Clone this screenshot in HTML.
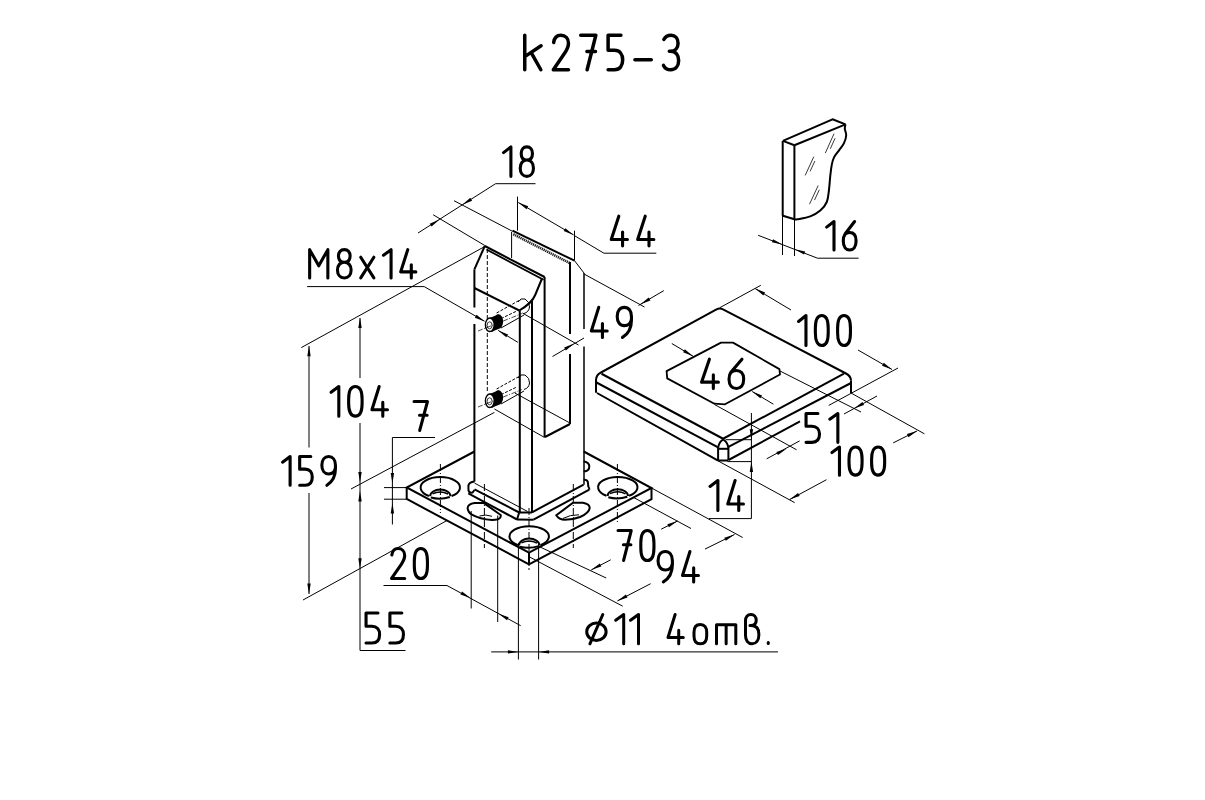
<!DOCTYPE html>
<html><head><meta charset="utf-8"><style>
html,body{margin:0;padding:0;background:#fff;width:1205px;height:800px;overflow:hidden}
svg{display:block}
</style></head><body>
<svg width="1205" height="800" viewBox="0 0 1205 800" stroke-linecap="butt">
<rect width="1205" height="800" fill="#fff"/>
<g transform="translate(524.75,35.15) scale(1.1659,1.2357)" fill="none" stroke="#000" stroke-width="3.5" stroke-linecap="round" stroke-linejoin="round"><path vector-effect="non-scaling-stroke" transform="translate(0,0)" d="M0,0 V28 M14,8.6 L1,16.8 M6,15 L13.8,28"/><path vector-effect="non-scaling-stroke" transform="translate(24.5,0)" d="M0.3,6 C0.8,2.2 3.2,0 6.5,0 C10.3,0 13,2.6 13,6.6 C13,9.5 12,11.5 9.8,14.5 L0,28 H13"/><path vector-effect="non-scaling-stroke" transform="translate(48,0)" d="M0,0 H13 L5.5,28 M5.3,13.3 H12.7"/><path vector-effect="non-scaling-stroke" transform="translate(71.5,0)" d="M11,0 H0 V12.3 H5.5 C10,12.3 12.5,15.5 12.5,20 C12.5,25 10,28 5.5,28 H0"/><path vector-effect="non-scaling-stroke" transform="translate(94.5,0)" d="M0,20 H14"/><path vector-effect="non-scaling-stroke" transform="translate(119,0)" d="M0.3,3.5 C1.5,1.2 3.8,0 6.5,0 C10,0 12.5,2.5 12.5,6.5 C12.5,10.5 10,13 6,13 H5 M6,13 C10.5,13 13,16 13,20.5 C13,25 10.3,28 6.2,28 C3.5,28 1.2,26.8 0,24.5"/></g>
<g transform="translate(503.55,146.85) scale(0.9803,1.0536)" fill="none" stroke="#000" stroke-width="3.1" stroke-linecap="round" stroke-linejoin="round"><path vector-effect="non-scaling-stroke" transform="translate(0,0)" d="M0,5.5 L7.5,0 V28"/><path vector-effect="non-scaling-stroke" transform="translate(17,0)" d="M6.75,12.5 C3.2,12.5 1,10.2 1,6.3 C1,2.5 3.2,0 6.75,0 C10.3,0 12.5,2.5 12.5,6.3 C12.5,10.2 10.3,12.5 6.75,12.5 C2.7,12.5 0,15.5 0,20.2 C0,25 2.7,28 6.75,28 C10.8,28 13.5,25 13.5,20.2 C13.5,15.5 10.8,12.5 6.75,12.5 Z"/></g>
<g transform="translate(611.25,216.15) scale(1.0785,1.0607)" fill="none" stroke="#000" stroke-width="3.1" stroke-linecap="round" stroke-linejoin="round"><path vector-effect="non-scaling-stroke" transform="translate(0,0)" d="M7,0 L0,22 H15 M10.5,15 V28"/><path vector-effect="non-scaling-stroke" transform="translate(24.5,0)" d="M7,0 L0,22 H15 M10.5,15 V28"/></g>
<g transform="translate(309.65,249.65) scale(1.0114,1.0107)" fill="none" stroke="#000" stroke-width="3.1" stroke-linecap="round" stroke-linejoin="round"><path vector-effect="non-scaling-stroke" transform="translate(0,0)" d="M0,28 V0 L9,16 L18,0 V28"/><path vector-effect="non-scaling-stroke" transform="translate(27.5,0)" d="M6.75,12.5 C3.2,12.5 1,10.2 1,6.3 C1,2.5 3.2,0 6.75,0 C10.3,0 12.5,2.5 12.5,6.3 C12.5,10.2 10.3,12.5 6.75,12.5 C2.7,12.5 0,15.5 0,20.2 C0,25 2.7,28 6.75,28 C10.8,28 13.5,25 13.5,20.2 C13.5,15.5 10.8,12.5 6.75,12.5 Z"/><path vector-effect="non-scaling-stroke" transform="translate(50.5,0)" d="M0,7.5 L13,28 M13,7.5 L0,28"/><path vector-effect="non-scaling-stroke" transform="translate(73,0)" d="M0,5.5 L7.5,0 V28"/><path vector-effect="non-scaling-stroke" transform="translate(90,0)" d="M7,0 L0,22 H15 M10.5,15 V28"/></g>
<g transform="translate(591.35,307.35) scale(1.0553,1.0750)" fill="none" stroke="#000" stroke-width="3.1" stroke-linecap="round" stroke-linejoin="round"><path vector-effect="non-scaling-stroke" transform="translate(0,0)" d="M7,0 L0,22 H15 M10.5,15 V28"/><path vector-effect="non-scaling-stroke" transform="translate(24.5,0)" d="M13.5,11 C12.8,14.8 10.2,17 6.75,17 C2.7,17 0,13.8 0,8.5 C0,3.2 2.7,0 6.75,0 C10.8,0 13.5,3.2 13.5,8.5 V12 C13.5,19 11,24.5 5,28"/></g>
<g transform="translate(826.65,221.55) scale(0.9800,1.0143)" fill="none" stroke="#000" stroke-width="3.1" stroke-linecap="round" stroke-linejoin="round"><path vector-effect="non-scaling-stroke" transform="translate(0,0)" d="M0,5.5 L7.5,0 V28"/><path vector-effect="non-scaling-stroke" transform="translate(17,0)" d="M11.5,0 L1.8,12.3 C0.6,14 0,16 0,18.8 V19.5 C0,25 2.7,28 6.5,28 C10.3,28 13,25 13,19.5 V18.8 C13,13.5 10.3,10.8 6.5,10.8 C4.2,10.8 2.6,11.6 1.5,12.8"/></g>
<g transform="translate(798.55,315.55) scale(0.9886,1.0679)" fill="none" stroke="#000" stroke-width="3.1" stroke-linecap="round" stroke-linejoin="round"><path vector-effect="non-scaling-stroke" transform="translate(0,0)" d="M0,5.5 L7.5,0 V28"/><path vector-effect="non-scaling-stroke" transform="translate(17,0)" d="M6.5,0 C10.8,0 13,4.5 13,12 V16 C13,23.5 10.8,28 6.5,28 C2.2,28 0,23.5 0,16 V12 C0,4.5 2.2,0 6.5,0 Z"/><path vector-effect="non-scaling-stroke" transform="translate(39.5,0)" d="M6.5,0 C10.8,0 13,4.5 13,12 V16 C13,23.5 10.8,28 6.5,28 C2.2,28 0,23.5 0,16 V12 C0,4.5 2.2,0 6.5,0 Z"/></g>
<g transform="translate(701.55,359.15) scale(1.1227,1.0464)" fill="none" stroke="#000" stroke-width="3.1" stroke-linecap="round" stroke-linejoin="round"><path vector-effect="non-scaling-stroke" transform="translate(0,0)" d="M7,0 L0,22 H15 M10.5,15 V28"/><path vector-effect="non-scaling-stroke" transform="translate(24.5,0)" d="M11.5,0 L1.8,12.3 C0.6,14 0,16 0,18.8 V19.5 C0,25 2.7,28 6.5,28 C10.3,28 13,25 13,19.5 V18.8 C13,13.5 10.3,10.8 6.5,10.8 C4.2,10.8 2.6,11.6 1.5,12.8"/></g>
<g transform="translate(331.05,386.55) scale(1.0349,1.0571)" fill="none" stroke="#000" stroke-width="3.1" stroke-linecap="round" stroke-linejoin="round"><path vector-effect="non-scaling-stroke" transform="translate(0,0)" d="M0,5.5 L7.5,0 V28"/><path vector-effect="non-scaling-stroke" transform="translate(17,0)" d="M6.5,0 C10.8,0 13,4.5 13,12 V16 C13,23.5 10.8,28 6.5,28 C2.2,28 0,23.5 0,16 V12 C0,4.5 2.2,0 6.5,0 Z"/><path vector-effect="non-scaling-stroke" transform="translate(39.5,0)" d="M7,0 L0,22 H15 M10.5,15 V28"/></g>
<g transform="translate(414.05,401.55) scale(1.0308,1.0321)" fill="none" stroke="#000" stroke-width="3.1" stroke-linecap="round" stroke-linejoin="round"><path vector-effect="non-scaling-stroke" transform="translate(0,0)" d="M0,0 H13 L5.5,28 M5.3,13.3 H12.7"/></g>
<g transform="translate(806.05,413.55) scale(1.0780,1.0286)" fill="none" stroke="#000" stroke-width="3.1" stroke-linecap="round" stroke-linejoin="round"><path vector-effect="non-scaling-stroke" transform="translate(0,0)" d="M11,0 H0 V12.3 H5.5 C10,12.3 12.5,15.5 12.5,20 C12.5,25 10,28 5.5,28 H0"/><path vector-effect="non-scaling-stroke" transform="translate(22,0)" d="M0,5.5 L7.5,0 V28"/></g>
<g transform="translate(282.55,456.55) scale(1.0076,1.0250)" fill="none" stroke="#000" stroke-width="3.1" stroke-linecap="round" stroke-linejoin="round"><path vector-effect="non-scaling-stroke" transform="translate(0,0)" d="M0,5.5 L7.5,0 V28"/><path vector-effect="non-scaling-stroke" transform="translate(17,0)" d="M11,0 H0 V12.3 H5.5 C10,12.3 12.5,15.5 12.5,20 C12.5,25 10,28 5.5,28 H0"/><path vector-effect="non-scaling-stroke" transform="translate(39,0)" d="M13.5,11 C12.8,14.8 10.2,17 6.75,17 C2.7,17 0,13.8 0,8.5 C0,3.2 2.7,0 6.75,0 C10.8,0 13.5,3.2 13.5,8.5 V12 C13.5,19 11,24.5 5,28"/></g>
<g transform="translate(831.95,447.05) scale(1.0038,1.0036)" fill="none" stroke="#000" stroke-width="3.1" stroke-linecap="round" stroke-linejoin="round"><path vector-effect="non-scaling-stroke" transform="translate(0,0)" d="M0,5.5 L7.5,0 V28"/><path vector-effect="non-scaling-stroke" transform="translate(17,0)" d="M6.5,0 C10.8,0 13,4.5 13,12 V16 C13,23.5 10.8,28 6.5,28 C2.2,28 0,23.5 0,16 V12 C0,4.5 2.2,0 6.5,0 Z"/><path vector-effect="non-scaling-stroke" transform="translate(39.5,0)" d="M6.5,0 C10.8,0 13,4.5 13,12 V16 C13,23.5 10.8,28 6.5,28 C2.2,28 0,23.5 0,16 V12 C0,4.5 2.2,0 6.5,0 Z"/></g>
<g transform="translate(710.05,480.55) scale(1.0437,1.0679)" fill="none" stroke="#000" stroke-width="3.1" stroke-linecap="round" stroke-linejoin="round"><path vector-effect="non-scaling-stroke" transform="translate(0,0)" d="M0,5.5 L7.5,0 V28"/><path vector-effect="non-scaling-stroke" transform="translate(17,0)" d="M7,0 L0,22 H15 M10.5,15 V28"/></g>
<g transform="translate(618.05,530.55) scale(1.0113,1.0679)" fill="none" stroke="#000" stroke-width="3.1" stroke-linecap="round" stroke-linejoin="round"><path vector-effect="non-scaling-stroke" transform="translate(0,0)" d="M0,0 H13 L5.5,28 M5.3,13.3 H12.7"/><path vector-effect="non-scaling-stroke" transform="translate(22.5,0)" d="M6.5,0 C10.8,0 13,4.5 13,12 V16 C13,23.5 10.8,28 6.5,28 C2.2,28 0,23.5 0,16 V12 C0,4.5 2.2,0 6.5,0 Z"/></g>
<g transform="translate(658.05,551.55) scale(1.0632,1.0857)" fill="none" stroke="#000" stroke-width="3.1" stroke-linecap="round" stroke-linejoin="round"><path vector-effect="non-scaling-stroke" transform="translate(0,0)" d="M13.5,11 C12.8,14.8 10.2,17 6.75,17 C2.7,17 0,13.8 0,8.5 C0,3.2 2.7,0 6.75,0 C10.8,0 13.5,3.2 13.5,8.5 V12 C13.5,19 11,24.5 5,28"/><path vector-effect="non-scaling-stroke" transform="translate(23,0)" d="M7,0 L0,22 H15 M10.5,15 V28"/></g>
<g transform="translate(391.55,548.55) scale(1.0113,1.0679)" fill="none" stroke="#000" stroke-width="3.1" stroke-linecap="round" stroke-linejoin="round"><path vector-effect="non-scaling-stroke" transform="translate(0,0)" d="M0.3,6 C0.8,2.2 3.2,0 6.5,0 C10.3,0 13,2.6 13,6.6 C13,9.5 12,11.5 9.8,14.5 L0,28 H13"/><path vector-effect="non-scaling-stroke" transform="translate(22.5,0)" d="M6.5,0 C10.8,0 13,4.5 13,12 V16 C13,23.5 10.8,28 6.5,28 C2.2,28 0,23.5 0,16 V12 C0,4.5 2.2,0 6.5,0 Z"/></g>
<g transform="translate(366.05,613.05) scale(1.0841,1.0679)" fill="none" stroke="#000" stroke-width="3.1" stroke-linecap="round" stroke-linejoin="round"><path vector-effect="non-scaling-stroke" transform="translate(0,0)" d="M11,0 H0 V12.3 H5.5 C10,12.3 12.5,15.5 12.5,20 C12.5,25 10,28 5.5,28 H0"/><path vector-effect="non-scaling-stroke" transform="translate(22,0)" d="M11,0 H0 V12.3 H5.5 C10,12.3 12.5,15.5 12.5,20 C12.5,25 10,28 5.5,28 H0"/></g>
<path transform="translate(586.1,614.5) scale(1.0316,1.0464)" d="M10,8.2 C4.8,8.2 0.6,11.9 0.6,16.5 C0.6,21.1 4.8,24.8 10,24.8 C15.2,24.8 19.4,21.1 19.4,16.5 C19.4,11.9 15.2,8.2 10,8.2 Z M3.7,28 L16.2,0" fill="none" stroke="#000" stroke-width="3.0" stroke-linecap="round" stroke-linejoin="round" vector-effect="non-scaling-stroke"/>
<path transform="translate(615.7,614.5) scale(1.0667,1.0464)" d="M0,5.5 L7.5,0 V28" fill="none" stroke="#000" stroke-width="3.0" stroke-linecap="round" stroke-linejoin="round" vector-effect="non-scaling-stroke"/>
<path transform="translate(630.5,614.5) scale(1.0667,1.0464)" d="M0,5.5 L7.5,0 V28" fill="none" stroke="#000" stroke-width="3.0" stroke-linecap="round" stroke-linejoin="round" vector-effect="non-scaling-stroke"/>
<path transform="translate(668,614.5) scale(1.0200,1.0464)" d="M7,0 L0,22 H15 M10.5,15 V28" fill="none" stroke="#000" stroke-width="3.0" stroke-linecap="round" stroke-linejoin="round" vector-effect="non-scaling-stroke"/>
<path transform="translate(694,614.5) scale(0.9769,1.0464)" d="M6.5,9.5 C2,9.5 0,12.5 0,17 V20.5 C0,25.5 2,28 6.5,28 C11,28 13,25.5 13,20.5 V17 C13,12.5 11,9.5 6.5,9.5 Z" fill="none" stroke="#000" stroke-width="3.0" stroke-linecap="round" stroke-linejoin="round" vector-effect="non-scaling-stroke"/>
<path transform="translate(716.5,614.5) scale(1.1353,1.0464)" d="M0,28 V9.8 H17 V28 M8.5,9.8 V28" fill="none" stroke="#000" stroke-width="3.0" stroke-linecap="round" stroke-linejoin="round" vector-effect="non-scaling-stroke"/>
<path transform="translate(745.5,614.5) scale(0.9926,1.0464)" d="M0,20 V6 C0,2.5 2,0 5.5,0 C8.8,0 10.8,2.5 10.8,5.5 C10.8,8.5 8.8,10.5 5.5,10.5 H4.5 M5.5,10.5 C10.5,10.5 13.5,13.5 13.5,19 C13.5,25 10.5,28 6.7,28 C2.7,28 0,25 0,20" fill="none" stroke="#000" stroke-width="3.0" stroke-linecap="round" stroke-linejoin="round" vector-effect="non-scaling-stroke"/>
<path transform="translate(767.9,614.5) scale(0.3500,1.0464)" d="M1,26.8 L1,27.6" fill="none" stroke="#000" stroke-width="3.0" stroke-linecap="round" stroke-linejoin="round" vector-effect="non-scaling-stroke"/>
<line x1="495.6" y1="183.7" x2="535.5" y2="183.7" stroke="#000" stroke-width="1.0" />
<line x1="495.6" y1="183.7" x2="418" y2="233" stroke="#000" stroke-width="1.0" />
<line x1="454" y1="200.7" x2="512.5" y2="231.3" stroke="#000" stroke-width="1.0" />
<line x1="433.2" y1="214.8" x2="484.8" y2="245.5" stroke="#000" stroke-width="1.0" />
<polygon points="462.3,204.8 470.31,197.8 472.11,200.69" fill="#000"/>
<polygon points="439.5,219.5 431.57,226.59 429.74,223.73" fill="#000"/>
<line x1="517.5" y1="196.6" x2="517.5" y2="230.7" stroke="#000" stroke-width="1.0" />
<line x1="574.5" y1="230.7" x2="574.5" y2="260.7" stroke="#000" stroke-width="1.0" />
<line x1="518.3" y1="202.5" x2="573.6" y2="234.9" stroke="#000" stroke-width="1.0" />
<polygon points="518.3,202.5 528.22,206.34 526.5,209.27" fill="#000"/>
<polygon points="573.6,234.9 563.68,231.06 565.4,228.13" fill="#000"/>
<polyline points="574.5,235.7 603.9,253.2 656.3,253.2" fill="none" stroke="#000" stroke-width="1.0" />
<line x1="584" y1="274" x2="644.5" y2="307" stroke="#000" stroke-width="1.0" />
<line x1="663.8" y1="290.6" x2="638.5" y2="305.5" stroke="#000" stroke-width="1.0" />
<polygon points="640.5,304.3 648.69,297.51 650.41,300.44" fill="#000"/>
<line x1="522.4" y1="313" x2="578.5" y2="345" stroke="#000" stroke-width="1.0" />
<line x1="552.5" y1="356.5" x2="584" y2="338" stroke="#000" stroke-width="1.0" />
<polygon points="574,343.5 565.89,350.39 564.14,347.48" fill="#000"/>
<line x1="782.5" y1="141.6" x2="782.5" y2="255" stroke="#000" stroke-width="1.0" />
<line x1="794.5" y1="219" x2="794.5" y2="256" stroke="#000" stroke-width="1.0" />
<polyline points="758.2,235.3 817.5,258.2 858.6,258.2" fill="none" stroke="#000" stroke-width="1.0" />
<polygon points="782.3,244.5 771.88,242.34 773.1,239.16" fill="#000"/>
<polygon points="794.8,249.2 805.21,251.38 803.99,254.55" fill="#000"/>
<line x1="719.8" y1="307.7" x2="760.8" y2="285.3" stroke="#000" stroke-width="1.0" />
<line x1="828.75" y1="405.4" x2="898" y2="368" stroke="#000" stroke-width="1.0" />
<line x1="755.2" y1="288.6" x2="791" y2="310" stroke="#000" stroke-width="1.0" />
<polygon points="755.2,288.6 765.08,292.53 763.34,295.45" fill="#000"/>
<line x1="858" y1="350" x2="892" y2="369.5" stroke="#000" stroke-width="1.0" />
<polygon points="892,369.5 882.05,365.75 883.74,362.8" fill="#000"/>
<line x1="671.8" y1="343.5" x2="693" y2="356.2" stroke="#000" stroke-width="1.0" />
<polygon points="693,356.2 683.12,352.26 684.87,349.35" fill="#000"/>
<line x1="773.4" y1="404.2" x2="752.2" y2="391.5" stroke="#000" stroke-width="1.0" />
<polygon points="752.2,391.5 762.08,395.44 760.33,398.35" fill="#000"/>
<line x1="780" y1="371" x2="861" y2="412" stroke="#000" stroke-width="1.0" />
<line x1="714.5" y1="404.5" x2="796.6" y2="449.8" stroke="#000" stroke-width="1.0" />
<line x1="877" y1="396" x2="844" y2="414" stroke="#000" stroke-width="1.0" />
<polygon points="854,408.5 862.41,401.99 864.04,404.98" fill="#000"/>
<line x1="766.7" y1="458.8" x2="799.6" y2="440.9" stroke="#000" stroke-width="1.0" />
<polygon points="786.6,448.8 777.98,455.03 776.45,452" fill="#000"/>
<line x1="851" y1="393" x2="924.4" y2="433.8" stroke="#000" stroke-width="1.0" />
<line x1="717.9" y1="460.8" x2="794.6" y2="502.6" stroke="#000" stroke-width="1.0" />
<line x1="893.2" y1="442.9" x2="917.1" y2="430.9" stroke="#000" stroke-width="1.0" />
<polygon points="917.1,430.9 908.48,437.13 906.95,434.09" fill="#000"/>
<line x1="826.5" y1="479.7" x2="789.6" y2="499.6" stroke="#000" stroke-width="1.0" />
<polygon points="789.6,499.6 798.03,493.12 799.65,496.11" fill="#000"/>
<line x1="751.4" y1="413" x2="751.4" y2="518.6" stroke="#000" stroke-width="1.0" />
<line x1="725.6" y1="439.7" x2="751.4" y2="439.7" stroke="#000" stroke-width="1.0" />
<line x1="727.5" y1="461.6" x2="751.4" y2="461.6" stroke="#000" stroke-width="1.0" />
<line x1="708.9" y1="518.6" x2="751.4" y2="518.6" stroke="#000" stroke-width="1.0" />
<polygon points="751.4,439.7 749.7,429.2 753.1,429.2" fill="#000"/>
<polygon points="751.4,461.6 753.1,472.1 749.7,472.1" fill="#000"/>
<polyline points="435,437.5 392.4,437.5 392.4,524.5" fill="none" stroke="#000" stroke-width="1.0" />
<line x1="384" y1="487.6" x2="407" y2="487.6" stroke="#000" stroke-width="1.0" />
<line x1="384" y1="499.2" x2="407" y2="499.2" stroke="#000" stroke-width="1.0" />
<polygon points="392.4,483.5 390.7,473 394.1,473" fill="#000"/>
<polygon points="392.4,503 394.1,513.5 390.7,513.5" fill="#000"/>
<line x1="360" y1="318" x2="360" y2="378" stroke="#000" stroke-width="1.0" />
<line x1="360" y1="423" x2="360" y2="650.5" stroke="#000" stroke-width="1.0" />
<line x1="360" y1="650.5" x2="405.5" y2="650.5" stroke="#000" stroke-width="1.0" />
<polygon points="360,317.5 361.7,328 358.3,328" fill="#000"/>
<polygon points="360,482.5 358.3,472 361.7,472" fill="#000"/>
<polygon points="360,491 361.7,501.5 358.3,501.5" fill="#000"/>
<polygon points="360,568.8 358.3,558.3 361.7,558.3" fill="#000"/>
<line x1="309" y1="346" x2="309" y2="447.5" stroke="#000" stroke-width="1.0" />
<line x1="309" y1="493" x2="309" y2="594" stroke="#000" stroke-width="1.0" />
<polygon points="309,345.8 310.7,356.3 307.3,356.3" fill="#000"/>
<polygon points="309,594 307.3,583.5 310.7,583.5" fill="#000"/>
<line x1="301.3" y1="347.6" x2="484.8" y2="246.5" stroke="#000" stroke-width="1.0" />
<line x1="351" y1="489" x2="494.4" y2="412.4" stroke="#000" stroke-width="1.0" />
<line x1="303" y1="600" x2="447" y2="520.5" stroke="#000" stroke-width="1.0" />
<polyline points="307.1,286.6 424.2,286.6 484.5,321.2" fill="none" stroke="#000" stroke-width="1.0" />
<polygon points="484.8,321.4 474.85,317.65 476.54,314.7" fill="#000"/>
<line x1="517.8" y1="342.3" x2="498.2" y2="330.4" stroke="#000" stroke-width="1.0" />
<polygon points="498.2,330.4 508.06,334.4 506.29,337.3" fill="#000"/>
<polyline points="383.5,585.5 447,585.5 520.7,625.7" fill="none" stroke="#000" stroke-width="1.0" />
<polygon points="470.5,598 460.43,594.57 462.03,591.57" fill="#000"/>
<polygon points="498.6,613.8 508.65,617.28 507.04,620.27" fill="#000"/>
<line x1="471.2" y1="511" x2="471.2" y2="608.5" stroke="#000" stroke-width="1.0" />
<line x1="497.7" y1="515.5" x2="497.7" y2="622" stroke="#000" stroke-width="1.0" />
<line x1="518.4" y1="543" x2="518.4" y2="659.5" stroke="#000" stroke-width="1.0" />
<line x1="538.6" y1="543" x2="538.6" y2="659.5" stroke="#000" stroke-width="1.0" />
<line x1="491.2" y1="651.9" x2="778" y2="651.9" stroke="#000" stroke-width="1.0" />
<polygon points="518.4,651.9 507.9,653.6 507.9,650.2" fill="#000"/>
<polygon points="538.6,651.9 549.1,650.2 549.1,653.6" fill="#000"/>
<line x1="539" y1="546.5" x2="606.2" y2="578" stroke="#000" stroke-width="1.0" />
<line x1="610.7" y1="559.8" x2="591.2" y2="570" stroke="#000" stroke-width="1.0" />
<polygon points="591.2,569.7 599.79,563.43 601.33,566.46" fill="#000"/>
<line x1="634" y1="497.7" x2="691" y2="528.5" stroke="#000" stroke-width="1.0" />
<line x1="661.2" y1="529.2" x2="677.5" y2="521" stroke="#000" stroke-width="1.0" />
<polygon points="677.5,521 668.88,527.24 667.36,524.2" fill="#000"/>
<line x1="529.8" y1="557.1" x2="622.7" y2="606.2" stroke="#000" stroke-width="1.0" />
<line x1="650.6" y1="583.7" x2="617.4" y2="600.9" stroke="#000" stroke-width="1.0" />
<polygon points="617.4,600.9 625.94,594.56 627.51,597.58" fill="#000"/>
<line x1="651.5" y1="488" x2="742.7" y2="537.5" stroke="#000" stroke-width="1.0" />
<line x1="705" y1="549.1" x2="734.5" y2="534.5" stroke="#000" stroke-width="1.0" />
<polygon points="734.5,534.5 725.84,540.68 724.34,537.63" fill="#000"/>
<polyline points="782.9,140.9 832.5,119.3 845.5,124.4" fill="none" stroke="#000" stroke-width="2.0" stroke-linejoin="round"/>
<line x1="782.9" y1="140.9" x2="794.4" y2="145.2" stroke="#000" stroke-width="2.0" />
<line x1="794.4" y1="145.2" x2="845.5" y2="124.4" stroke="#000" stroke-width="2.0" />
<line x1="782.7" y1="140.9" x2="782.7" y2="215.7" stroke="#000" stroke-width="2.0" />
<line x1="794.4" y1="145.2" x2="794.4" y2="219.3" stroke="#000" stroke-width="2.0" />
<path d="M845.5,124.4 C845.4,125.1 844.7,126.9 844.8,128.7 C844.9,130.5 846.3,132.8 846.2,135.2 C846.1,137.6 845.2,140.6 844.0,143.1 C842.8,145.6 840.7,147.9 839.0,150.3 C837.3,152.7 835.2,155.0 834.0,157.4 C832.8,159.8 832.4,161.7 831.8,164.6 C831.2,167.5 830.9,170.4 830.4,174.7 C829.9,179.0 829.5,185.9 828.9,190.5 C828.3,195.1 828.2,198.7 826.8,202.0 C825.4,205.3 823.0,208.2 820.3,210.6 C817.5,213.0 814.1,214.9 810.3,216.4 C806.5,217.9 799.9,218.8 797.3,219.3 C794.6,219.8 794.9,219.3 794.4,219.3 L782.9,215.7" fill="none" stroke="#000" stroke-width="2.0" stroke-linejoin="round"/>
<line x1="825.3" y1="153.1" x2="834" y2="133.7" stroke="#222" stroke-width="0.9" />
<line x1="830.3" y1="148.8" x2="835.1" y2="138.2" stroke="#222" stroke-width="0.9" />
<line x1="805.2" y1="175.4" x2="813.8" y2="156.7" stroke="#222" stroke-width="0.9" />
<line x1="810.1" y1="171.3" x2="814.9" y2="161" stroke="#222" stroke-width="0.9" />
<line x1="809.5" y1="204.2" x2="818.2" y2="185.5" stroke="#222" stroke-width="0.9" />
<line x1="814.5" y1="200.1" x2="819.3" y2="189.8" stroke="#222" stroke-width="0.9" />
<path d="M596,380 Q596.3,374.6 601,372.5 L716.5,309.3 Q719.8,307.6 723,309.3 L846,373.5 Q850.8,376 851,380.5" fill="none" stroke="#000" stroke-width="2.0" />
<line x1="601.5" y1="373.75" x2="723.1" y2="438.75" stroke="#000" stroke-width="2.0" />
<line x1="723.1" y1="438.75" x2="844" y2="373.6" stroke="#000" stroke-width="2.0" />
<line x1="851" y1="380.5" x2="851" y2="393" stroke="#000" stroke-width="2.0" />
<line x1="596" y1="379.5" x2="596" y2="392.8" stroke="#000" stroke-width="2.0" />
<line x1="596.5" y1="382.5" x2="718.1" y2="447.3" stroke="#000" stroke-width="2.0" />
<line x1="597" y1="393" x2="718.1" y2="460.6" stroke="#000" stroke-width="2.0" />
<line x1="728.4" y1="446.9" x2="851" y2="383" stroke="#000" stroke-width="2.0" />
<line x1="728.6" y1="460" x2="800" y2="421.3" stroke="#000" stroke-width="2.0" />
<line x1="718.1" y1="447" x2="718.1" y2="460.6" stroke="#000" stroke-width="2.0" />
<line x1="728.4" y1="447" x2="728.4" y2="460.2" stroke="#000" stroke-width="2.0" />
<path d="M718.1,447.5 Q719.5,441 723.1,439.6 Q727,441 728.4,447.5" fill="none" stroke="#000" stroke-width="2.0" />
<line x1="718.1" y1="448.8" x2="728.4" y2="448.8" stroke="#000" stroke-width="2.0" />
<line x1="718.1" y1="460.6" x2="728.4" y2="460.4" stroke="#000" stroke-width="2.0" />
<polygon points="666.6,371.1 721,342.6 733,342.6 779.4,369.1 780,374.5 725,404.3 714.4,403.7 667.2,378.4" fill="none" stroke="#000" stroke-width="1.8" stroke-linejoin="round"/>
<polyline points="474.5,451.5 406.7,487.5 529,552.7 651.5,488 583.7,451.5" fill="none" stroke="#000" stroke-width="2.0" />
<polyline points="406.7,487.5 406.7,499 529,564.3 651.5,499.2 651.5,488" fill="none" stroke="#000" stroke-width="2.0" />
<line x1="529" y1="552.7" x2="529" y2="564.3" stroke="#000" stroke-width="2.0" />
<path d="M429.0,496.0 A19.7,10.4 0 1 1 451.6,496.0" fill="none" stroke="#000" stroke-width="2.0" />
<path d="M430.1,496.3 A10.2,6.8 0 0 1 450.5,496.3" fill="none" stroke="#000" stroke-width="2.0" />
<path d="M432.5,493.8 Q440.3,490.1 448.1,494.0" fill="none" stroke="#000" stroke-width="1.5" />
<path d="M430.8,497.5 Q440.3,500.1 449.8,497.0" fill="none" stroke="#000" stroke-width="2.0" />
<path d="M606.5,495.8 A19.7,10.4 0 1 1 629.0999999999999,495.8" fill="none" stroke="#000" stroke-width="2.0" />
<path d="M607.5999999999999,496.1 A10.2,6.8 0 0 1 628.0,496.1" fill="none" stroke="#000" stroke-width="2.0" />
<path d="M610.0,493.6 Q617.8,489.90000000000003 625.5999999999999,493.8" fill="none" stroke="#000" stroke-width="1.5" />
<path d="M608.3,497.3 Q617.8,499.90000000000003 627.3,496.8" fill="none" stroke="#000" stroke-width="2.0" />
<path d="M517.9000000000001,545.1 A19.7,10.4 0 1 1 540.5,545.1" fill="none" stroke="#000" stroke-width="2.0" />
<path d="M519.0,545.4 A10.2,6.8 0 0 1 539.4000000000001,545.4" fill="none" stroke="#000" stroke-width="2.0" />
<path d="M521.4000000000001,542.9 Q529.2,539.2 537.0,543.1" fill="none" stroke="#000" stroke-width="1.5" />
<path d="M519.7,546.6 Q529.2,549.2 538.7,546.1" fill="none" stroke="#000" stroke-width="2.0" />
<path d="M483.9,503.1 L474.5,503.1 Q468,504 467.6,508 Q468,512.5 471.4,514.4 Q480,519.3 492,520 Q499,519.8 500.3,517.5 Q501,515.8 500.75,515 Z" fill="none" stroke="#000" stroke-width="2.0" />
<path d="M479.5,516 Q486,514 492,516.3" fill="none" stroke="#000" stroke-width="1.0" />
<path d="M556.3,515.2 L573,502.8 L583,502.8 Q589.7,504 589.7,508 Q589,513 580,517 Q573,519.8 565,519.8 Q559,519.6 556.3,515.2 Z" fill="none" stroke="#000" stroke-width="2.0" />
<path d="M562.8,518.5 Q570,514.6 579,514.8" fill="none" stroke="#000" stroke-width="1.0" />
<path d="M583.7,461.2 Q589.3,462.5 589.3,466.2 Q589.3,470.5 585.5,471.2 L583.7,471.2" fill="none" stroke="#000" stroke-width="2.0" />
<line x1="440.4" y1="464" x2="440.4" y2="513" stroke="#000" stroke-width="1.0" stroke-dasharray="7,2,1,2"/>
<line x1="617.4" y1="464" x2="617.4" y2="523.5" stroke="#000" stroke-width="1.0" stroke-dasharray="7,2,1,2"/>
<line x1="529" y1="508" x2="529" y2="570" stroke="#000" stroke-width="1.0" stroke-dasharray="7,2,1,2"/>
<line x1="484.4" y1="484" x2="484.4" y2="548" stroke="#000" stroke-width="1.0" stroke-dasharray="7,2,1,2"/>
<line x1="573.3" y1="484" x2="573.3" y2="548" stroke="#000" stroke-width="1.0" stroke-dasharray="7,2,1,2"/>
<path d="M474.5,481.6 Q469.2,482.3 468.4,485.5 L468.5,490.5 Q469.2,493.2 472.5,492.6 L474.5,490" fill="none" stroke="#000" stroke-width="2.0" />
<line x1="474.5" y1="483.1" x2="527.6" y2="511.5" stroke="#000" stroke-width="1.0" />
<line x1="474.5" y1="489.4" x2="519.2" y2="512.5" stroke="#000" stroke-width="2.0" />
<line x1="468.3" y1="493.4" x2="517" y2="519.5" stroke="#000" stroke-width="2.0" />
<line x1="517" y1="519.5" x2="533.5" y2="519.7" stroke="#000" stroke-width="2.0" />
<line x1="519.2" y1="512.5" x2="532" y2="512.4" stroke="#000" stroke-width="2.0" />
<line x1="519.2" y1="512.5" x2="517" y2="519.5" stroke="#000" stroke-width="2.0" />
<line x1="532" y1="512.3" x2="583.6" y2="484.7" stroke="#000" stroke-width="2.0" />
<line x1="533.5" y1="519.7" x2="589.3" y2="489.6" stroke="#000" stroke-width="2.0" />
<path d="M583.6,479.5 Q588,479.8 588,483 L588.3,486.5 Q589.5,488 589.3,489.6" fill="none" stroke="#000" stroke-width="2.0" />
<line x1="474.4" y1="269.4" x2="474.4" y2="307.5" stroke="#000" stroke-width="2.0" />
<line x1="474.4" y1="324" x2="474.4" y2="481.6" stroke="#000" stroke-width="2.0" />
<line x1="484.8" y1="246" x2="474.4" y2="269.4" stroke="#000" stroke-width="2.0" />
<line x1="484.8" y1="246" x2="544.6" y2="277" stroke="#000" stroke-width="2.0" />
<line x1="486.5" y1="249.5" x2="543.5" y2="279.8" stroke="#000" stroke-width="1.8" />
<line x1="544.6" y1="277" x2="544.6" y2="437.2" stroke="#000" stroke-width="2.0" />
<line x1="487.3" y1="249" x2="487.3" y2="391.8" stroke="#000" stroke-width="1.0" stroke-dasharray="4,2"/>
<line x1="474.4" y1="288" x2="519.3" y2="310.5" stroke="#000" stroke-width="2.0" />
<path d="M542,278.5 L535.2,295 Q532,303 519.3,310.5" fill="none" stroke="#000" stroke-width="2.0" />
<line x1="519.8" y1="310.5" x2="519.8" y2="512.5" stroke="#000" stroke-width="2.0" />
<line x1="532" y1="301" x2="532" y2="512.4" stroke="#000" stroke-width="2.0" />
<line x1="512.5" y1="230.7" x2="574.5" y2="260.7" stroke="#000" stroke-width="2.0" />
<line x1="513.3" y1="234.2" x2="570" y2="263.2" stroke="#222" stroke-width="2.6" stroke-dasharray="1.3,0.7"/>
<line x1="511.6" y1="232" x2="511.6" y2="258" stroke="#000" stroke-width="1.0" />
<line x1="570" y1="262" x2="570" y2="334" stroke="#000" stroke-width="2.0" />
<line x1="570" y1="354" x2="570" y2="424" stroke="#000" stroke-width="2.0" />
<line x1="574.5" y1="260.7" x2="584" y2="273" stroke="#000" stroke-width="1.0" />
<line x1="584" y1="273" x2="584" y2="329" stroke="#000" stroke-width="1.5" />
<line x1="584" y1="346.5" x2="584" y2="484.7" stroke="#000" stroke-width="1.5" />
<line x1="545" y1="437" x2="570" y2="424" stroke="#000" stroke-width="2.0" />
<line x1="515" y1="393.1" x2="569" y2="422.5" stroke="#000" stroke-width="1.0" />
<line x1="494.4" y1="409" x2="544.6" y2="437.5" stroke="#000" stroke-width="1.0" />
<line x1="496.6" y1="313" x2="521.3" y2="299.2" stroke="#000" stroke-width="1.0" stroke-dasharray="3,1.5"/>
<line x1="501" y1="318.6" x2="516.2" y2="311.3" stroke="#000" stroke-width="1.0" stroke-dasharray="3,1.5"/>
<line x1="501" y1="328" x2="524" y2="315" stroke="#000" stroke-width="1.0" />
<path d="M518,302 Q521,297.5 525,299 Q530,302 529.5,307 Q529,312 524,313.5" fill="none" stroke="#000" stroke-width="1.0" />
<ellipse cx="491.5" cy="324.5" rx="4.6" ry="7.3" fill="#000" stroke="#000" stroke-width="0" />
<ellipse cx="498.5" cy="321.6" rx="4.6" ry="7.3" fill="#000" stroke="#000" stroke-width="0" />
<polygon points="491.5,317.2 498.5,314.3 498.5,328.9 491.5,331.8" fill="#000"/>
<ellipse cx="489.8" cy="324.8" rx="4.4" ry="6.75" fill="#fff" stroke="#000" stroke-width="1.4" />
<ellipse cx="489.6" cy="325.3" rx="2.5" ry="3.5" fill="none" stroke="#000" stroke-width="0.8" />
<line x1="478" y1="331" x2="521.9" y2="313.6" stroke="#000" stroke-width="0.7" stroke-dasharray="5,1.5,1,1.5"/>
<line x1="496.6" y1="389" x2="521.3" y2="375.2" stroke="#000" stroke-width="1.0" stroke-dasharray="3,1.5"/>
<line x1="501" y1="394.6" x2="516.2" y2="387.3" stroke="#000" stroke-width="1.0" stroke-dasharray="3,1.5"/>
<line x1="501" y1="404" x2="524" y2="391" stroke="#000" stroke-width="1.0" />
<path d="M518,378 Q521,373.5 525,375 Q530,378 529.5,383 Q529,388 524,389.5" fill="none" stroke="#000" stroke-width="1.0" />
<ellipse cx="491.5" cy="400.5" rx="4.6" ry="7.3" fill="#000" stroke="#000" stroke-width="0" />
<ellipse cx="498.5" cy="397.6" rx="4.6" ry="7.3" fill="#000" stroke="#000" stroke-width="0" />
<polygon points="491.5,393.2 498.5,390.3 498.5,404.9 491.5,407.8" fill="#000"/>
<ellipse cx="489.8" cy="400.8" rx="4.4" ry="6.75" fill="#fff" stroke="#000" stroke-width="1.4" />
<ellipse cx="489.6" cy="401.3" rx="2.5" ry="3.5" fill="none" stroke="#000" stroke-width="0.8" />
<line x1="478" y1="407" x2="521.9" y2="389.6" stroke="#000" stroke-width="0.7" stroke-dasharray="5,1.5,1,1.5"/>
</svg></body></html>
